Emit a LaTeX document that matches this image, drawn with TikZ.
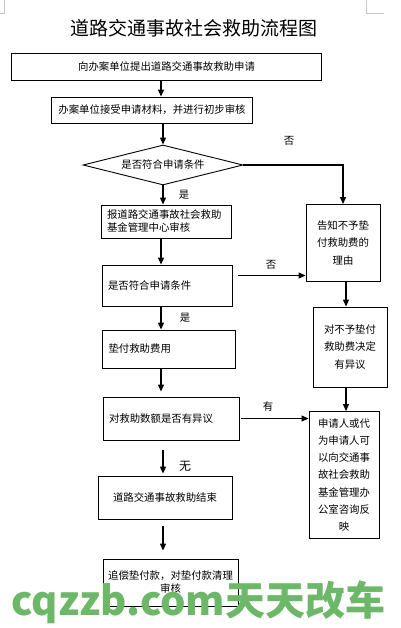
\documentclass[tikz,border=0pt]{standalone}
\usepackage{fontspec}
\setmainfont{Noto Sans CJK SC}
\usetikzlibrary{positioning, shapes.geometric, arrows.meta, calc}

\definecolor{wmgreen}{RGB}{108,184,104}
\newcommand{\boxfont}{\fontsize{10.4}{13}\selectfont}
\newcommand{\tallfont}{\fontsize{10.4}{17.3}\selectfont}

\tikzset{
  box/.style={draw, line width=0.9pt, inner xsep=6pt, inner ysep=0pt, font=\boxfont},
  arr/.style={-{Triangle[length=7pt,width=6pt]}, line width=1.2pt},
  lbl/.style={font=\boxfont, inner sep=1pt},
}

\begin{document}
\begin{tikzpicture}[x=1pt, y=-1pt]
  \useasboundingbox (0,0) rectangle (400,628);
  % page corner marks
  \draw[gray!45, line width=0.6pt] (4,0) -- (4,13) -- (0,13);
  \draw[gray!45, line width=0.6pt] (366,0) -- (366,13) -- (384,13);
  % title
  \node[font=\fontsize{19}{19}\selectfont] (title) at (194,28) {道路交通事故社会救助流程图};
  % main column
  \node[box, text width=298pt, minimum height=27pt, align=center] (apply) at (166.5,67) {向办案单位提出道路交通事故救助申请};
  \node[box, text width=189pt, minimum height=26pt, align=center] (accept) at (152,110) {办案单位接受申请材料，并进行初步审核};
  \node[draw, diamond, aspect=4, inner sep=0pt, minimum width=160pt, minimum height=40pt, line width=0.9pt, font=\boxfont] (check1) at (163,165) {是否符合申请条件};
  \node[box, text width=118pt, minimum height=33pt, align=left] (report) at (166,221.5) {报道路交通事故社会救助\\基金管理中心审核};
  \node[box, text width=118pt, minimum height=41pt, align=left] (check2) at (167,285.5) {是否符合申请条件};
  \node[box, text width=121pt, minimum height=38pt, align=left] (pay) at (169,349) {垫付救助费用};
  \node[box, text width=124pt, minimum height=43pt, align=left] (dispute) at (171,418.5) {对救助数额是否有异议};
  \node[box, text width=122pt, minimum height=43pt, align=center] (finish) at (165,497.5) {道路交通事故救助结束};
  \node[box, text width=125pt, inner xsep=5pt, minimum height=47pt, align=center] (recover) at (170.5,582.5) {追偿垫付款，对垫付款清理\\审核};
  % right column
  \node[box, text width=62pt, minimum height=77pt, align=center, font=\tallfont] (refuse) at (343,243) {告知不予垫\\付救助费的\\理由};
  \node[box, text width=62pt, minimum height=80pt, align=center, font=\tallfont] (object) at (350,347) {对不予垫付\\救助费决定\\有异议};
  \node[box, text width=58pt, minimum height=127pt, align=center, font=\tallfont] (consult) at (344,475) {申请人或代\\为申请人可\\以向交通事\\故社会救助\\基金管理办\\公室咨询反\\映};
  % connectors
  \coordinate (col) at (161,0);
  \coordinate (col2) at (346,0);
  \draw[arr] (apply.south -| col) -- (accept.north -| col);
  \draw[arr] (accept.south -| check1) -- (check1.north);
  \draw[arr] (check1.south) -- (check1.south |- report.north);
  \draw[arr] (check1.east) -| (refuse.north);
  \draw[arr] (report.south -| col) -- (check2.north -| col);
  \draw[arr] ([shift={(6pt,10pt)}]check2.east) -- ([yshift=10pt]check2.east -| refuse.west);
  \draw[arr] (refuse.south -| col2) -- (object.north -| col2);
  \draw[arr] (object.south -| col2) -- (consult.north -| col2);
  \draw[arr] (check2.south -| col) -- (pay.north -| col);
  \draw[arr, shorten >=5pt] (pay.south -| col) -- (dispute.north -| col);
  \draw[arr] ([xshift=2pt]dispute.east) -- (dispute.east -| consult.west);
  \draw[arr, shorten <=10pt, shorten >=2pt] (dispute.south -| check1) -- (finish.north -| check1);
  \draw[arr, shorten <=7pt, shorten >=8pt] (finish.south -| check1) -- (recover.north -| check1);
  % labels
  \node[lbl] (no1) at (289,141) {否};
  \node[lbl] (yes1) at (184,195) {是};
  \node[lbl] (no2) at (271,265) {否};
  \node[lbl] (yes2) at (185,318) {是};
  \node[lbl] (has) at (268,407) {有};
  \node[lbl, font=\fontsize{12}{12}\selectfont] (none) at (185,466) {无};
  % watermark
  \node[font=\fontsize{40}{40}\selectfont\bfseries, text=wmgreen, inner sep=0pt] (mark) at (198.5,602) {cqzzb.com天天改车};
\end{tikzpicture}
\end{document}
